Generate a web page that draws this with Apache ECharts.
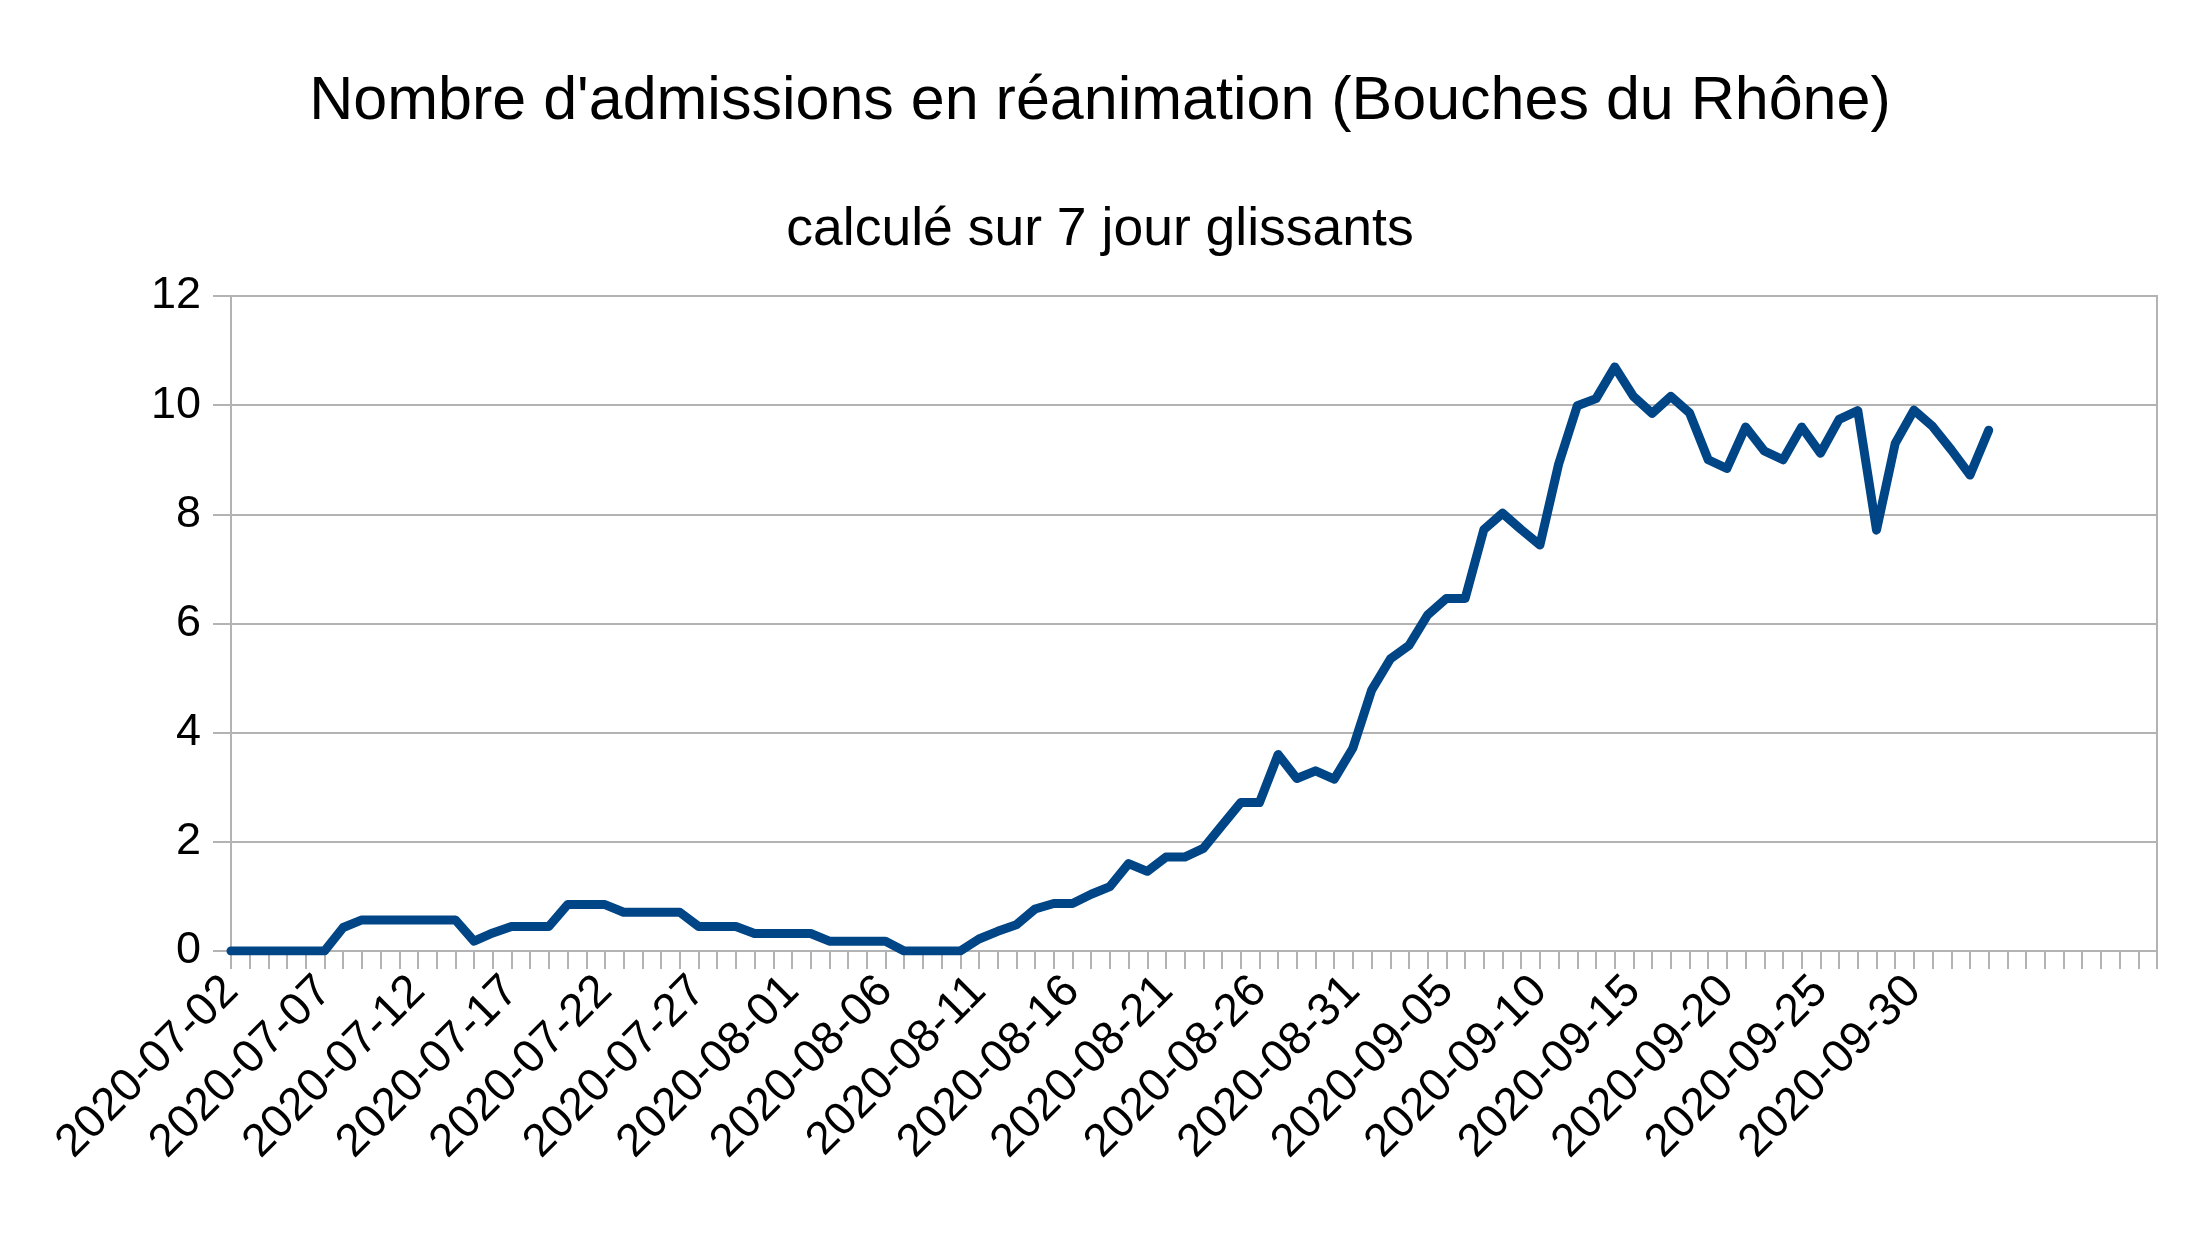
<!DOCTYPE html>
<html>
<head>
<meta charset="utf-8">
<script src="https://cdn.jsdelivr.net/npm/echarts@6/dist/echarts.min.js"></script>
<style>
  html, body { margin: 0; padding: 0; background: #ffffff; }
  #chart { width: 2200px; height: 1238px; }
</style>
</head>
<body>
<div id="chart"></div>
<script>
const titleText = "Nombre d'admissions en réanimation (Bouches du Rhône)";
const subtitleText = "calculé sur 7 jour glissants";

const categories = [
  "2020-07-02","2020-07-03","2020-07-04","2020-07-05","2020-07-06","2020-07-07","2020-07-08","2020-07-09","2020-07-10","2020-07-11",
  "2020-07-12","2020-07-13","2020-07-14","2020-07-15","2020-07-16","2020-07-17","2020-07-18","2020-07-19","2020-07-20","2020-07-21",
  "2020-07-22","2020-07-23","2020-07-24","2020-07-25","2020-07-26","2020-07-27","2020-07-28","2020-07-29","2020-07-30","2020-07-31",
  "2020-08-01","2020-08-02","2020-08-03","2020-08-04","2020-08-05","2020-08-06","2020-08-07","2020-08-08","2020-08-09","2020-08-10",
  "2020-08-11","2020-08-12","2020-08-13","2020-08-14","2020-08-15","2020-08-16","2020-08-17","2020-08-18","2020-08-19","2020-08-20",
  "2020-08-21","2020-08-22","2020-08-23","2020-08-24","2020-08-25","2020-08-26","2020-08-27","2020-08-28","2020-08-29","2020-08-30",
  "2020-08-31","2020-09-01","2020-09-02","2020-09-03","2020-09-04","2020-09-05","2020-09-06","2020-09-07","2020-09-08","2020-09-09",
  "2020-09-10","2020-09-11","2020-09-12","2020-09-13","2020-09-14","2020-09-15","2020-09-16","2020-09-17","2020-09-18","2020-09-19",
  "2020-09-20","2020-09-21","2020-09-22","2020-09-23","2020-09-24","2020-09-25","2020-09-26","2020-09-27","2020-09-28","2020-09-29",
  "2020-09-30","2020-10-01","2020-10-02","2020-10-03","2020-10-04",
  "","","","","","","","",""
];

const admissions = [
  0, 0, 0, 0, 0, 0, 0.43, 0.57, 0.57, 0.57,
  0.57, 0.57, 0.57, 0.18, 0.33, 0.45, 0.45, 0.45, 0.85, 0.85,
  0.85, 0.71, 0.71, 0.71, 0.71, 0.45, 0.45, 0.45, 0.32, 0.32,
  0.32, 0.32, 0.18, 0.18, 0.18, 0.18, 0, 0, 0, 0,
  0.22, 0.36, 0.48, 0.77, 0.87, 0.87, 1.04, 1.18, 1.6, 1.46,
  1.72, 1.72, 1.88, 2.3, 2.72, 2.72, 3.6, 3.16, 3.3, 3.15,
  3.72, 4.78, 5.35, 5.6, 6.16, 6.46, 6.46, 7.72, 8.02, 7.72,
  7.44, 8.92, 9.99, 10.12, 10.7, 10.16, 9.85, 10.16, 9.86, 9.0,
  8.84, 9.6, 9.16, 9.0, 9.6, 9.12, 9.74, 9.9, 7.71, 9.3,
  9.91, 9.61, 9.18, 8.72, 9.54
];

const yTicks = { min: 0, max: 12, interval: 2 };

const FONT = "'Liberation Sans', Arial, sans-serif";
const GRAY = '#b3b3b3';

const chart = echarts.init(document.getElementById('chart'), null, { renderer: 'canvas' });
chart.setOption({
  backgroundColor: '#ffffff',
  animation: false,
  title: [
    { text: titleText, left: 'center', top: 67,
      textStyle: { fontFamily: FONT, fontSize: 61, fontWeight: 'normal', color: '#000000' } },
    { text: subtitleText, left: 'center', top: 198,
      textStyle: { fontFamily: FONT, fontSize: 53.5, fontWeight: 'normal', color: '#000000' } }
  ],
  grid: {
    left: 231, right: 43, top: 296, bottom: 287,
    show: true, borderColor: GRAY, borderWidth: 2, backgroundColor: 'transparent'
  },
  xAxis: {
    type: 'category',
    data: categories,
    boundaryGap: false,
    axisLine: { show: true, lineStyle: { color: GRAY, width: 2 } },
    axisTick: { show: true, interval: 0, length: 18, lineStyle: { color: GRAY, width: 2 } },
    axisLabel: {
      interval: 4, rotate: 45, margin: 33,
      fontFamily: FONT, fontSize: 46, color: '#000000'
    },
    splitLine: { show: false }
  },
  yAxis: {
    type: 'value',
    min: yTicks.min, max: yTicks.max, interval: yTicks.interval,
    axisLine: { show: true, lineStyle: { color: GRAY, width: 2 } },
    axisTick: { show: true, length: 18, lineStyle: { color: GRAY, width: 2 } },
    axisLabel: { margin: 30, fontFamily: FONT, fontSize: 45, color: '#000000' },
    splitLine: { show: true, lineStyle: { color: GRAY, width: 2 } }
  },
  series: [{
    type: 'line',
    data: admissions,
    showSymbol: false,
    symbol: 'none',
    smooth: false,
    lineStyle: { color: '#004586', width: 9, cap: 'round', join: 'round' },
    itemStyle: { color: '#004586' }
  }]
});
</script>
</body>
</html>
